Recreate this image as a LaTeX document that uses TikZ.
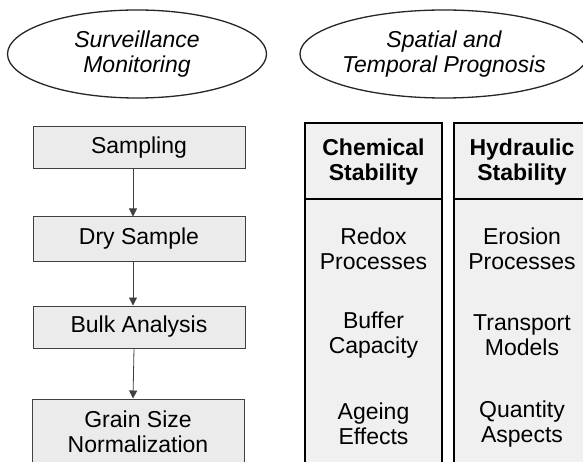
\documentclass[tikz,border=0pt]{standalone}
\usepackage{fontspec}
\setmainfont{Liberation Sans}
\usetikzlibrary{shapes.geometric,arrows.meta}
\begin{document}
\begin{tikzpicture}[x=1pt,y=-1pt,
  every node/.style={font=\fontsize{23}{25}\selectfont, align=center},
  oval/.style={ellipse, draw=black!85, line width=1.3pt, fill=white, inner sep=0pt},
  stepbox/.style={rectangle, draw=black!75, line width=1pt, fill=black!8, minimum width=212, inner sep=0pt},
  colbox/.style={rectangle, draw=black, line width=2pt, fill=black!6, minimum width=137, minimum height=352, inner sep=0pt},
  arr/.style={draw=black!75, line width=0.8pt, -{Triangle[length=8pt,width=8pt]}}
]
\useasboundingbox (0,0) rectangle (583,462);
\clip (0,0) rectangle (583,462);
\fill[white] (0,0) rectangle (583,462);
% ellipses
\node[oval, minimum width=259, minimum height=88] (e1) at (137,54) {\itshape Surveillance\\\itshape Monitoring};
\node[oval, minimum width=277, minimum height=88] (e2) at (444,54) {\itshape Spatial and\\\itshape Temporal Prognosis};
% left flow
\node[stepbox, minimum height=42] (s1) at (139,148) {Sampling};
\node[stepbox, minimum height=44] (s2) at (139,239) {Dry Sample};
\node[stepbox, minimum height=42] (s3) at (139,327) {Bulk Analysis};
\node[stepbox, minimum height=66] (s4) at (138,432) {Grain Size\\Normalization};
\draw[arr] ([xshift=-6pt]s1.south) -- ([xshift=-6pt]s2.north);
\draw[arr] ([xshift=-6pt]s2.south) -- ([xshift=-6pt]s3.north);
\draw[arr] ([xshift=-5pt]s3.south) -- ([xshift=-5pt]s4.north);
% columns
\node[colbox] (c1) at (373.5,299) {};
\node[colbox] (c2) at (522,299) {};
\draw[black, line width=2pt] (c1.west |- 0,199) -- (c1.east |- 0,199);
\draw[black, line width=2pt] (c2.west |- 0,199) -- (c2.east |- 0,199);
\node (h1) at (373.5,162) {\bfseries Chemical\\\bfseries Stability};
\node (h2) at (522,162) {\bfseries Hydraulic\\\bfseries Stability};
\node (a1) at (373.5,249) {Redox\\Processes};
\node (a2) at (373.5,335) {Buffer\\Capacity};
\node (a3) at (373.5,424) {Ageing\\Effects};
\node (b1) at (522,249) {Erosion\\Processes};
\node (b2) at (522,335) {Transport\\Models};
\node (b3) at (522,424) {Quantity\\Aspects};
\end{tikzpicture}
\end{document}
